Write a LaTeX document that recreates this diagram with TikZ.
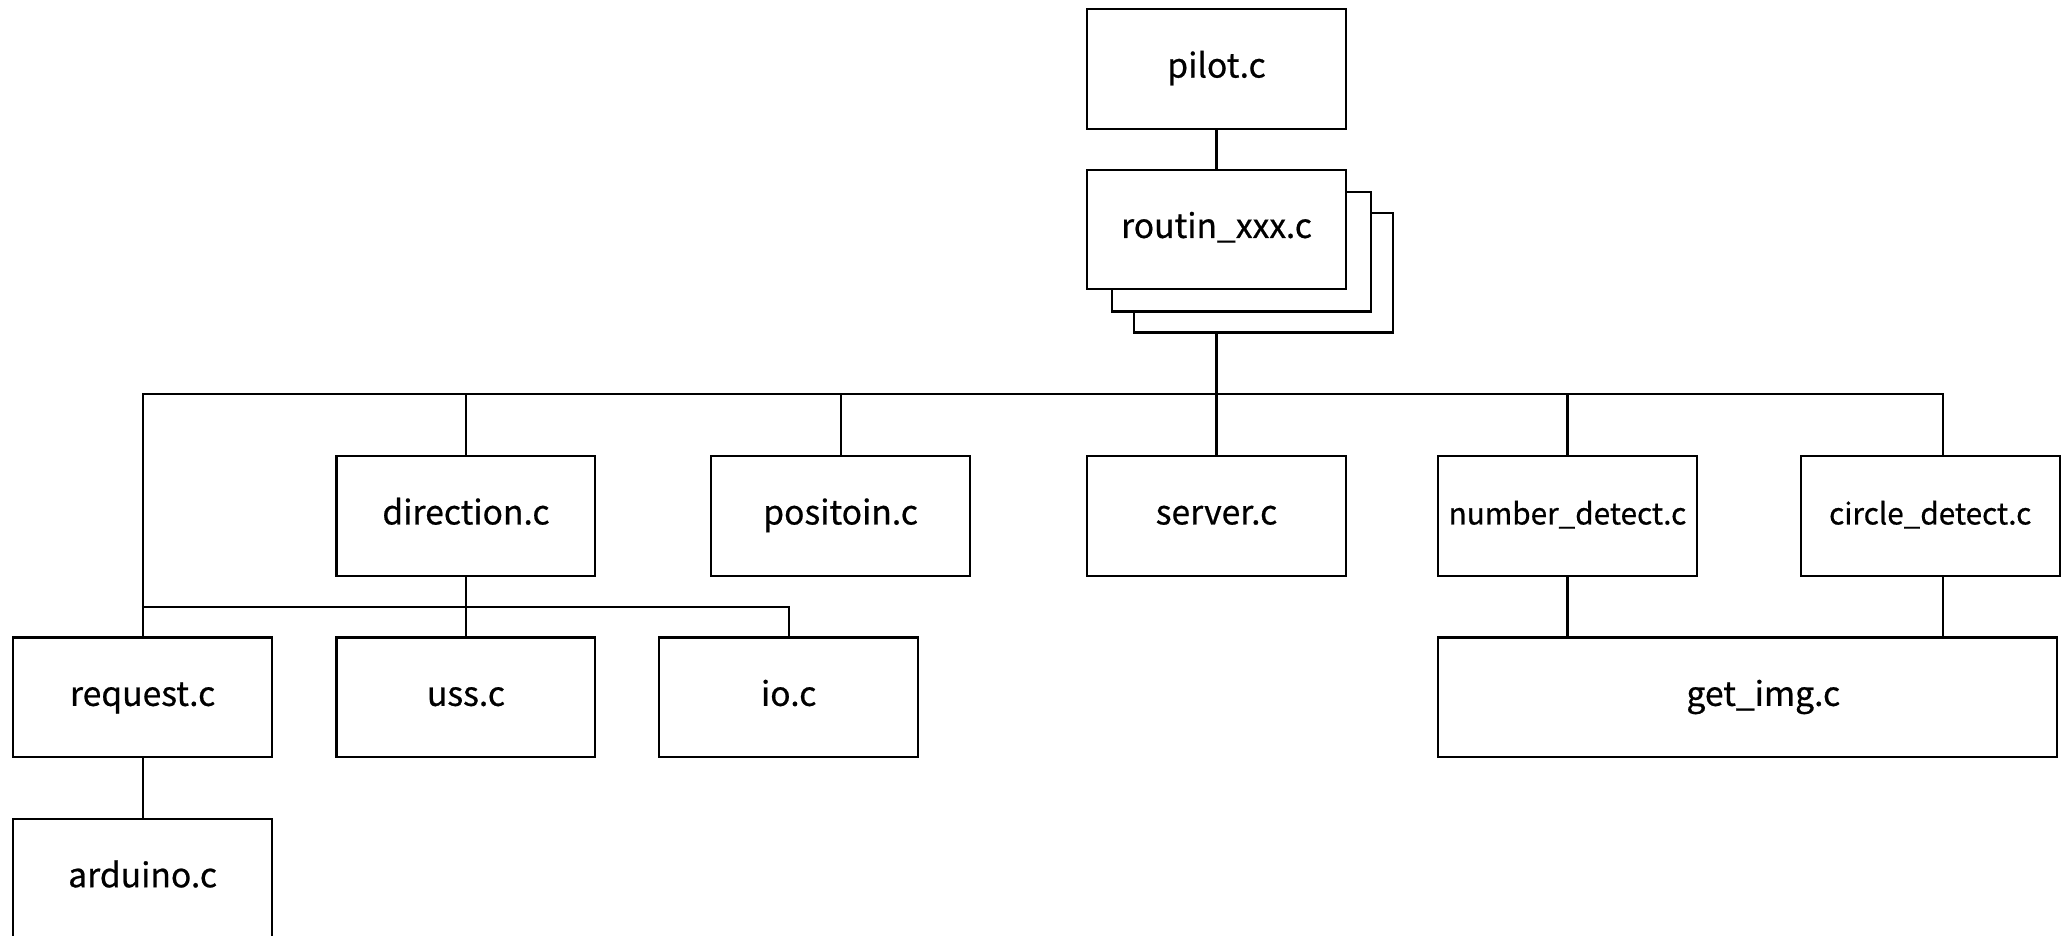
\documentclass[tikz,border=0pt]{standalone}
\usepackage{fontspec}
\newfontfamily\cjk{Noto Sans CJK SC}[FakeBold=0.6]
\begin{document}
\begin{tikzpicture}[x=0.5pt,y=-0.5pt,
  line width=0.8pt,
  plainbox/.style={draw, fill=white, rectangle, inner sep=0pt,
    minimum width=98.5pt, minimum height=45.5pt},
  box/.style={plainbox, text height=8.5pt, text depth=2pt,
    font=\cjk\fontsize{12.8}{14}\selectfont},
  smallbox/.style={box, font=\cjk\fontsize{11.3}{13}\selectfont},
  widebox/.style={box, minimum width=235.5pt}]
\useasboundingbox (0,0) rectangle (1568,712);
\clip (0,0) rectangle (1568,712);

% top of the tree
\node[box] (pilot) at (925.5,52.5) {pilot.c};
\node[plainbox] (sh3) at (961.5,207.5) {};
\node[plainbox] (sh2) at (944.5,191.5) {};
\node[box] (routin) at (925.5,174.5) {routin\_xxx.c};

% second level
\node[box] (direction) at (354.5,392.5) {direction.c};
\node[box] (positoin) at (639.5,392.5) {positoin.c};
\node[box] (server) at (925.5,392.5) {server.c};
\node[smallbox] (number) at (1192.5,392.5) {number\_detect.c};
\node[smallbox] (circle) at (1468.5,392.5) {circle\_detect.c};

% third level
\node[box] (request) at (108.5,530.5) {request.c};
\node[box] (uss) at (354.5,530.5) {uss.c};
\node[box] (io) at (600,530.5) {io.c};
\node[widebox] (getimg) at (1329.5,530.5) {\hspace*{12pt}get\_img.c};
\node[box] (arduino) at (108.5,668.5) {arduino.c};

% bus coordinates
\coordinate (bus) at (926,300);
\coordinate (bustwo) at (108,462);
\coordinate (cdtop) at (1478,347);
\coordinate (cdbot) at (1478,438);

% connectors
\draw (pilot) -- (routin);
\draw (routin.south |- sh3.south) -- (server.north);
\draw (request.north) |- (bus) -| (cdtop);
\draw (direction.north) -- (direction.north |- bus);
\draw (positoin.north) -- (positoin.north |- bus);
\draw (number.north) -- (number.north |- bus);
\draw (bustwo) -| (io.north);
\draw (direction) -- (uss);
\draw (number.south) -- (number.south |- getimg.north);
\draw (cdbot) -- (cdbot |- getimg.north);
\draw (request) -- (arduino);
\end{tikzpicture}
\end{document}
